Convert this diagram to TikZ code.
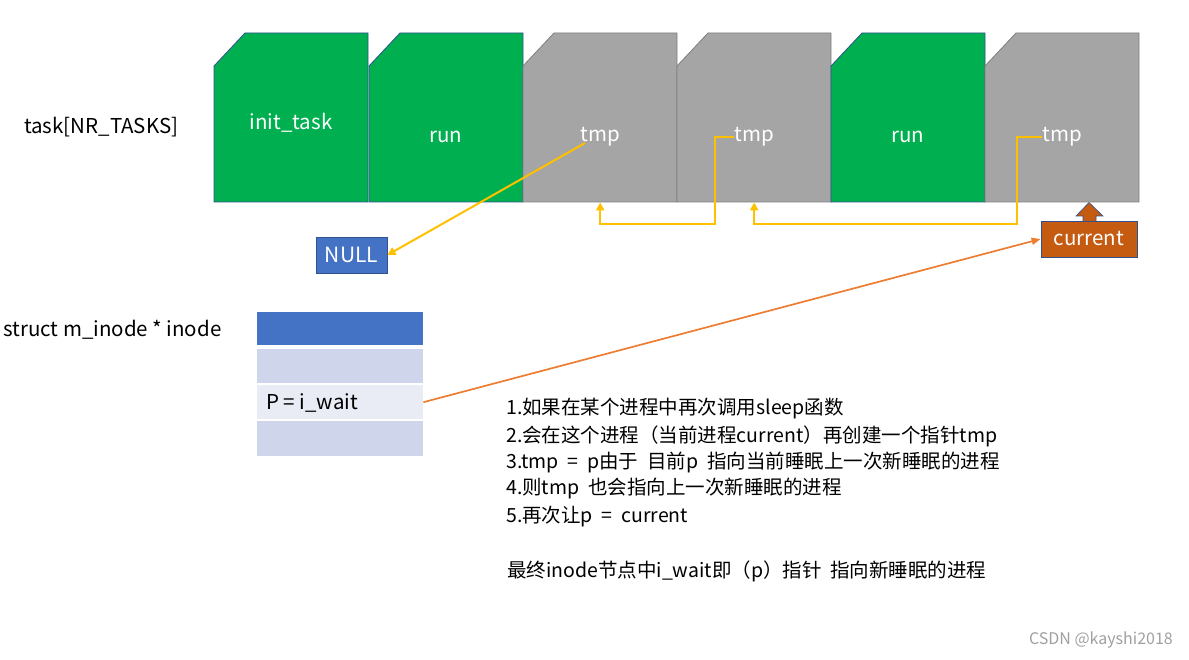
\documentclass[tikz,border=0pt]{standalone}
\usepackage{fontspec}
\setmainfont{Noto Sans CJK SC}
\newfontfamily\cjk{Noto Sans CJK SC}
\usetikzlibrary{arrows.meta}
\definecolor{cgreen}{HTML}{00B050}
\definecolor{cgray}{HTML}{A5A5A5}
\definecolor{cgrayb}{HTML}{7F7F7F}
\definecolor{cblueb}{HTML}{2F528F}
\definecolor{cblue}{HTML}{4472C4}
\definecolor{crowA}{HTML}{CFD5EA}
\definecolor{crowB}{HTML}{E9EBF5}
\definecolor{cyel}{HTML}{FFC000}
\definecolor{cora}{HTML}{ED7D31}
\definecolor{ccur}{HTML}{C55A11}
\definecolor{cwm}{HTML}{A0A0A0}
\newlength\wsp
\newcommand\widespaces{\setlength\wsp{0.45em}\spaceskip=\wsp\relax}
\tikzset{
  greencell/.style={fill=cgreen, draw=cblueb, line width=0.8pt},
  graycell/.style={fill=cgray, draw=cgrayb, line width=0.8pt},
  celltext/.style={text=white, font=\fontsize{20.5}{24}\selectfont, inner sep=0pt},
  lbl/.style={text=black, font=\fontsize{20.5}{24}\selectfont, inner sep=0pt},
  rowbox/.style={minimum width=166pt, inner sep=0pt, draw=none},
  yelline/.style={draw=cyel, line width=2pt, -{Triangle[length=8pt,width=8pt]}},
  oraline/.style={draw=cora, line width=1.7pt, -{Triangle[length=9pt,width=7pt]}},
  txtline/.style={anchor=west, inner sep=0pt, font=\cjk\fontsize{19.5}{24}\selectfont, execute at begin node=\widespaces},
}
\newcommand\taskcell[5]{%
  \path[#2] (#1,66) -- (#1+31,33) -- (#1+154,33) -- (#1+154,202) -- (#1,202) -- cycle;
  \node[minimum width=154pt, minimum height=169pt, inner sep=0pt, anchor=north west] (#3) at (#1,33) {};
  \node[celltext] (#3t) at (#1+77,#5) {#4};
}
\begin{document}
\begin{tikzpicture}[x=1pt,y=-1pt]
\useasboundingbox (0,0) rectangle (1189,660);
\taskcell{214}{greencell}{c1}{init\_task}{123}
\taskcell{369}{greencell}{c2}{run}{137}
\taskcell{523}{graycell}{c3}{tmp}{137}
\taskcell{677}{graycell}{c4}{tmp}{137}
\taskcell{831}{greencell}{c5}{run}{137}
\taskcell{985}{graycell}{c6}{tmp}{137}

\node[lbl, anchor=west] (task) at (24,127) {task[NR\_TASKS]};

\node[fill=cblue, draw=cblueb, line width=0.8pt, minimum width=71pt, minimum height=36pt, inner sep=0pt, text=white, font=\fontsize{21}{24}\selectfont] (null) at (351.5,255) {NULL};

\node[fill=ccur, draw=cblueb, line width=0.8pt, minimum width=96pt, minimum height=36pt, inner sep=0pt, text=white, font=\fontsize{20.5}{24}\selectfont] (cur) at (1089,239) {current};
\path[fill=ccur, draw=cblueb, line width=0.6pt] (1083,221) -- (1083,216) -- (1076,216) -- (1089,202.5) -- (1103,216) -- (1096,216) -- (1096,221);

\node[lbl, anchor=west] (sinode) at (3,330) {struct m\_inode * inode};
\node[rowbox, fill=cblue, minimum height=33pt, anchor=north west] (row1) at (257,312) {};
\node[rowbox, fill=crowA, minimum height=34pt, anchor=north west] (row2) at (257,349) {};
\node[rowbox, fill=crowB, minimum height=34pt, anchor=north west] (row3) at (257,385) {};
\node[rowbox, fill=crowA, minimum height=35pt, anchor=north west] (row4) at (257,421) {};
\node[lbl, anchor=west] (pwait) at (266,403) {P = i\_wait};

% connectors
\coordinate (s3) at (585,143);
\draw[yelline] (s3) -- (null.east);
\coordinate (r4) at (715,224);
\draw[yelline] (c4t.west) -| (r4) -| (c3.south);
\coordinate (r6) at (1017,224);
\draw[yelline] (c6t.west) -| (r6) -| (c4.south);
\draw[oraline] (row3.east) -- (cur.west);

% text block
\node[txtline] (l1) at (506,409) {1.如果在某个进程中再次调用sleep函数};
\node[txtline] (l2) at (506,436) {2.会在这个进程（当前进程current）再创建一个指针tmp};
\node[txtline] (l3) at (506,462) {3.tmp = p由于 目前p 指向当前睡眠上一次新睡眠的进程};
\node[txtline] (l4) at (506,489) {4.则tmp 也会指向上一次新睡眠的进程};
\node[txtline] (l5) at (506,517) {5.再次让p = current};
\node[txtline] (l6) at (507,571) {最终inode节点中i\_wait即（p）指针 指向新睡眠的进程};

\node[anchor=east, inner sep=0pt, text=cwm, font=\fontsize{16}{20}\selectfont] (wm) at (1173,640) {CSDN @kayshi2018};
\end{tikzpicture}
\end{document}
